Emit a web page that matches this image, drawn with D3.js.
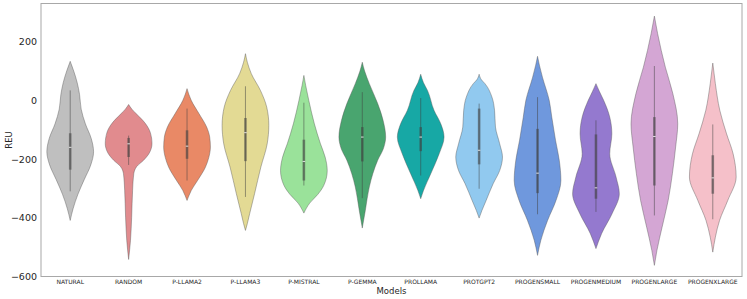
<!DOCTYPE html>
<html>
<head>
<meta charset="utf-8">
<script src="https://cdn.jsdelivr.net/npm/d3@7"></script>
<style>
  body { margin: 0; background: #fff; }
  svg text { font-family: 'DejaVu Sans', sans-serif; fill: #262626; }
</style>
</head>
<body>
<div id="chart"></div>
<script>
// Categories and their fill colours
const models = ['NATURAL', 'RANDOM', 'P-LLAMA2', 'P-LLAMA3', 'P-MISTRAL', 'P-GEMMA',
  'PROLLAMA', 'PROTGPT2', 'PROGENSMALL', 'PROGENMEDIUM', 'PROGENLARGE', 'PROGENXLARGE'];
const colors = ['#bfbfbf', '#e18b8e', '#e98966', '#e3da94', '#9ae29a', '#49a56f',
  '#17a8a5', '#91c9ef', '#6f98dd', '#9479cf', '#d4a6d4', '#f5c0c9'];

// Density outline per model: [REU value, relative width]
const profiles = [
  [[133,0],[100,0.15],[60,0.3],[20,0.4],[-30,0.47],[-80,0.65],[-130,0.9],[-175,1],[-220,0.88],[-270,0.6],[-320,0.33],[-370,0.12],[-409,0]],
  [[-14,0],[-30,0.14],[-45,0.32],[-78,0.71],[-110,0.93],[-147,1],[-180,0.88],[-204,0.64],[-225,0.35],[-250,0.22],[-306,0.17],[-398,0.13],[-477,0.08],[-542,0]],
  [[40,0],[20,0.08],[0,0.18],[-45,0.51],[-91,0.84],[-125,0.97],[-159,1],[-195,0.93],[-227,0.79],[-273,0.45],[-307,0.18],[-325,0.08],[-341,0]],
  [[159,0],[130,0.08],[91,0.25],[34,0.64],[-23,0.91],[-85,1],[-148,0.93],[-227,0.66],[-318,0.39],[-386,0.18],[-420,0.08],[-443,0]],
  [[85,0],[50,0.08],[0,0.21],[-80,0.45],[-148,0.71],[-193,0.91],[-239,1],[-290,0.85],[-320,0.6],[-350,0.25],[-384,0]],
  [[130,0],[100,0.1],[57,0.3],[-11,0.66],[-68,0.89],[-125,1],[-165,0.9],[-204,0.66],[-250,0.45],[-295,0.3],[-375,0.13],[-435,0]],
  [[89,0],[60,0.12],[34,0.29],[-34,0.57],[-80,0.86],[-125,1],[-182,0.79],[-250,0.43],[-307,0.12],[-335,0]],
  [[89,0],[70,0.1],[57,0.25],[11,0.55],[-34,0.66],[-91,0.7],[-148,0.88],[-193,1],[-239,0.88],[-284,0.6],[-341,0.3],[-375,0.12],[-401,0]],
  [[150,0],[120,0.08],[79,0.21],[0,0.5],[-57,0.61],[-136,0.77],[-204,0.93],[-273,1],[-341,0.79],[-409,0.43],[-477,0.14],[-528,0]],
  [[57,0],[30,0.15],[0,0.33],[-57,0.59],[-114,0.68],[-182,0.59],[-261,0.86],[-318,1],[-386,0.69],[-454,0.24],[-505,0]],
  [[287,0],[227,0.14],[113,0.47],[23,0.79],[-80,1],[-159,0.91],[-250,0.77],[-341,0.59],[-432,0.33],[-511,0.11],[-562,0]],
  [[127,0],[57,0.11],[-34,0.3],[-114,0.59],[-182,0.87],[-261,1],[-341,0.64],[-409,0.29],[-466,0.11],[-517,0]]
];

// Inner box stats
const whiskerLow = [-310, -220, -273, -329, -290, -333, -256, -301, -388, -380, -392, -405];
const q1 = [-236, -193, -199, -207, -273, -208, -173, -218, -316, -335, -290, -318];
const medians = [-160, -148, -156, -110, -208, -125, -125, -170, -248, -298, -123, -264];
const q3 = [-112, -128, -102, -60, -134, -91, -91, -28, -97, -116, -57, -187];
const whiskerHigh = [34, -120, -28, 48, -8, 28, 8, -11, 11, -68, 117, -82];

const yTicks = [-600, -400, -200, 0, 200];

// Set up margins
const width = 747;
const height = 299;
const margin = { top: 3.5, right: 5, bottom: 22.5, left: 41 };
const plotW = width - margin.left - margin.right;
const plotH = height - margin.top - margin.bottom;

const svg = d3
  .select('#chart')
  .append('svg')
  .attr('width', width)
  .attr('height', height);

const g = svg
  .append('g')
  .attr('transform', 'translate(' + margin.left + ',' + margin.top + ')');

// Scales
const x = d3.scaleBand().domain(models).range([0, plotW]).padding(0);
const y = d3.scaleLinear().domain([-600, 330]).range([plotH, 0]);
const halfW = x.bandwidth() * 0.4;

// Draw violins
models.forEach((m, i) => {
  const cx = x(m) + x.bandwidth() / 2;
  const area = d3
    .area()
    .y((d) => y(d[0]))
    .x0((d) => cx - halfW * d[1])
    .x1((d) => cx + halfW * d[1])
    .curve(d3.curveMonotoneY);

  g.append('path')
    .datum(profiles[i])
    .attr('d', area)
    .attr('fill', colors[i])
    .attr('stroke', '#555')
    .attr('stroke-opacity', 0.7)
    .attr('stroke-width', 0.6);

  // whisker
  g.append('line')
    .attr('x1', cx).attr('x2', cx)
    .attr('y1', y(whiskerLow[i])).attr('y2', y(whiskerHigh[i]))
    .attr('stroke', '#3f3f3f')
    .attr('stroke-opacity', 0.5)
    .attr('stroke-width', 1);

  // box
  g.append('line')
    .attr('x1', cx).attr('x2', cx)
    .attr('y1', y(q1[i])).attr('y2', y(q3[i]))
    .attr('stroke', '#3f3f3f')
    .attr('stroke-opacity', 0.55)
    .attr('stroke-width', 2.6);

  // median
  g.append('line')
    .attr('x1', cx - 1.3).attr('x2', cx + 1.3)
    .attr('y1', y(medians[i])).attr('y2', y(medians[i]))
    .attr('stroke', '#eeeeee')
    .attr('stroke-width', 0.9);
});

// Frame
g.append('rect')
  .attr('x', 0)
  .attr('y', 0)
  .attr('width', plotW)
  .attr('height', plotH)
  .attr('fill', 'none')
  .attr('stroke', '#a8a8a8')
  .attr('stroke-width', 1);

// Axes
const yAxis = d3.axisLeft(y).tickValues(yTicks).tickSize(0).tickPadding(4);
const yG = g.append('g').call(yAxis);
yG.select('.domain').remove();
yG.selectAll('text').style('font-size', '9.5px').attr('fill', '#262626');

const xAxis = d3.axisBottom(x).tickSize(0).tickPadding(3);
const xG = g.append('g').attr('transform', 'translate(0,' + plotH + ')').call(xAxis);
xG.select('.domain').remove();
xG.selectAll('text').style('font-size', '6px').attr('fill', '#262626');

// Axis labels
g.append('text')
  .attr('x', plotW / 2)
  .attr('y', plotH + 17)
  .attr('text-anchor', 'middle')
  .style('font-size', '8.5px')
  .text('Models');

g.append('text')
  .attr('transform', 'rotate(-90)')
  .attr('x', -plotH / 2)
  .attr('y', -29)
  .attr('text-anchor', 'middle')
  .style('font-size', '8.5px')
  .text('REU');
</script>
</body>
</html>
